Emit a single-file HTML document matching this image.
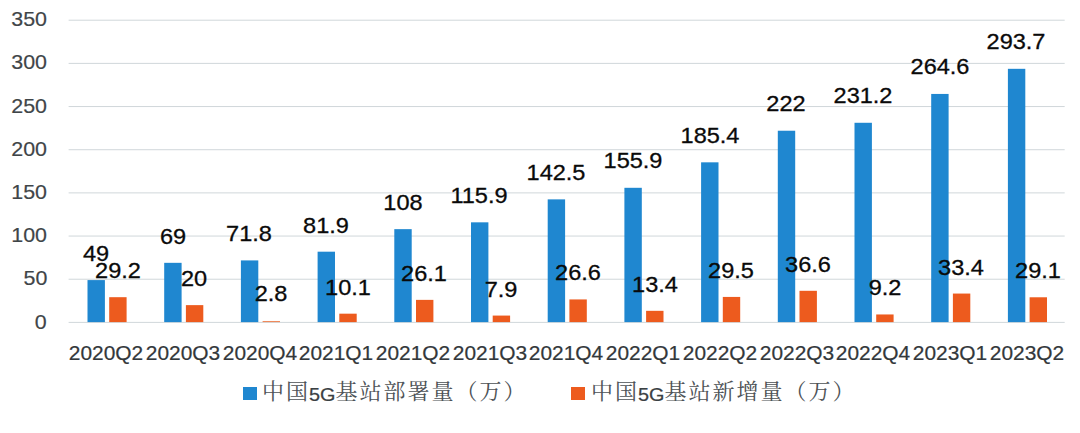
<!DOCTYPE html>
<html lang="zh"><head><meta charset="utf-8"><title>中国5G基站部署量</title><style>
html,body{margin:0;padding:0;background:#fff;}
body{width:1080px;height:433px;overflow:hidden;position:relative;font-family:"Liberation Sans",sans-serif;}
#chart{position:absolute;left:0;top:0;width:1080px;height:433px;background:#fff;overflow:hidden;}
.t{position:absolute;white-space:nowrap;line-height:1;}
.ax{color:#3f4548;-webkit-text-stroke:0.2px #3f4548;font-size:21.0px;transform-origin:100% 50%;transform:scaleX(1.02);text-align:right;}
.xl{color:#33383b;-webkit-text-stroke:0.2px #33383b;font-size:20.0px;transform:translateX(-50%) scaleX(1.045);}
.dl{color:#0a0a0a;-webkit-text-stroke:0.3px #0a0a0a;font-size:22.1px;transform:translateX(-50%) scaleX(1.065);}
.lg{position:absolute;}
.lg svg{position:absolute;left:0;top:0;overflow:visible;}
.lg .k{position:absolute;width:13.5px;height:13.3px;}
.lg .tx{position:absolute;white-space:nowrap;color:#4d5256;font-family:"Liberation Serif","Noto Serif CJK SC",serif;font-size:22px;line-height:1;letter-spacing:2px;}
.lg .en{position:absolute;white-space:nowrap;color:#3a4043;font-size:18.3px;line-height:1;transform-origin:0 50%;transform:scaleX(1.085);-webkit-text-stroke:0.22px #3a4043;}
</style></head><body><div id="chart">
<svg width="1080" height="433" viewBox="0 0 1080 433" style="position:absolute;left:0;top:0"><line x1="68.6" x2="1064.7" y1="322.4" y2="322.4" stroke="#d0d7da" stroke-width="1.0"/><line x1="68.6" x2="1064.7" y1="279.23" y2="279.23" stroke="#d0d7da" stroke-width="1.0"/><line x1="68.6" x2="1064.7" y1="236.06" y2="236.06" stroke="#d0d7da" stroke-width="1.0"/><line x1="68.6" x2="1064.7" y1="192.89" y2="192.89" stroke="#d0d7da" stroke-width="1.0"/><line x1="68.6" x2="1064.7" y1="149.72" y2="149.72" stroke="#d0d7da" stroke-width="1.0"/><line x1="68.6" x2="1064.7" y1="106.55" y2="106.55" stroke="#d0d7da" stroke-width="1.0"/><line x1="68.6" x2="1064.7" y1="63.38" y2="63.38" stroke="#d0d7da" stroke-width="1.0"/><line x1="68.6" x2="1064.7" y1="20.21" y2="20.21" stroke="#d0d7da" stroke-width="1.0"/><rect x="87.5" y="280.09" width="17.4" height="42.01" fill="#1f87d0"/><rect x="109.2" y="297.19" width="17.4" height="24.91" fill="#ed5b1e"/><rect x="164.2" y="262.83" width="17.4" height="59.27" fill="#1f87d0"/><rect x="185.9" y="305.13" width="17.4" height="16.97" fill="#ed5b1e"/><rect x="240.9" y="260.41" width="17.4" height="61.69" fill="#1f87d0"/><rect x="262.6" y="320.98" width="17.4" height="1.12" fill="#ef8a5c"/><rect x="317.6" y="251.69" width="17.4" height="70.41" fill="#1f87d0"/><rect x="339.3" y="313.68" width="17.4" height="8.42" fill="#ed5b1e"/><rect x="394.3" y="229.15" width="17.4" height="92.95" fill="#1f87d0"/><rect x="416" y="299.87" width="17.4" height="22.23" fill="#ed5b1e"/><rect x="471" y="222.33" width="17.4" height="99.77" fill="#1f87d0"/><rect x="492.7" y="315.58" width="17.4" height="6.52" fill="#ed5b1e"/><rect x="547.7" y="199.37" width="17.4" height="122.73" fill="#1f87d0"/><rect x="569.4" y="299.43" width="17.4" height="22.67" fill="#ed5b1e"/><rect x="624.4" y="187.8" width="17.4" height="134.3" fill="#1f87d0"/><rect x="646.1" y="310.83" width="17.4" height="11.27" fill="#ed5b1e"/><rect x="701.1" y="162.33" width="17.4" height="159.77" fill="#1f87d0"/><rect x="722.8" y="296.93" width="17.4" height="25.17" fill="#ed5b1e"/><rect x="777.8" y="130.73" width="17.4" height="191.37" fill="#1f87d0"/><rect x="799.5" y="290.8" width="17.4" height="31.3" fill="#ed5b1e"/><rect x="854.5" y="122.78" width="17.4" height="199.32" fill="#1f87d0"/><rect x="876.2" y="314.46" width="17.4" height="7.64" fill="#ed5b1e"/><rect x="931.2" y="93.94" width="17.4" height="228.16" fill="#1f87d0"/><rect x="952.9" y="293.56" width="17.4" height="28.54" fill="#ed5b1e"/><rect x="1007.9" y="68.82" width="17.4" height="253.28" fill="#1f87d0"/><rect x="1029.6" y="297.28" width="17.4" height="24.82" fill="#ed5b1e"/></svg>
<div class="t ax" style="right:1033.1px;top:310.5px">0</div>
<div class="t ax" style="right:1033.1px;top:267.33px">50</div>
<div class="t ax" style="right:1033.1px;top:224.16px">100</div>
<div class="t ax" style="right:1033.1px;top:180.99px">150</div>
<div class="t ax" style="right:1033.1px;top:137.82px">200</div>
<div class="t ax" style="right:1033.1px;top:94.65px">250</div>
<div class="t ax" style="right:1033.1px;top:51.48px">300</div>
<div class="t ax" style="right:1033.1px;top:8.31px">350</div>
<div class="t xl" style="left:106.25px;top:342.9px">2020Q2</div>
<div class="t xl" style="left:182.95px;top:342.9px">2020Q3</div>
<div class="t xl" style="left:259.65px;top:342.9px">2020Q4</div>
<div class="t xl" style="left:336.35px;top:342.9px">2021Q1</div>
<div class="t xl" style="left:413.05px;top:342.9px">2021Q2</div>
<div class="t xl" style="left:489.75px;top:342.9px">2021Q3</div>
<div class="t xl" style="left:566.45px;top:342.9px">2021Q4</div>
<div class="t xl" style="left:643.15px;top:342.9px">2022Q1</div>
<div class="t xl" style="left:719.85px;top:342.9px">2022Q2</div>
<div class="t xl" style="left:796.55px;top:342.9px">2022Q3</div>
<div class="t xl" style="left:873.25px;top:342.9px">2022Q4</div>
<div class="t xl" style="left:949.95px;top:342.9px">2023Q1</div>
<div class="t xl" style="left:1026.65px;top:342.9px">2023Q2</div>
<div class="t dl" style="left:95.9px;top:243.03px">49</div>
<div class="t dl" style="left:172.6px;top:225.71px">69</div>
<div class="t dl" style="left:249.3px;top:223.29px">71.8</div>
<div class="t dl" style="left:326px;top:214.54px">81.9</div>
<div class="t dl" style="left:402.7px;top:191.95px">108</div>
<div class="t dl" style="left:479.4px;top:185.11px">115.9</div>
<div class="t dl" style="left:556.1px;top:162.08px">142.5</div>
<div class="t dl" style="left:632.8px;top:150.47px">155.9</div>
<div class="t dl" style="left:709.5px;top:124.93px">185.4</div>
<div class="t dl" style="left:786.2px;top:93.25px">222</div>
<div class="t dl" style="left:862.9px;top:85.28px">231.2</div>
<div class="t dl" style="left:939.6px;top:56.36px">264.6</div>
<div class="t dl" style="left:1016.3px;top:31.17px">293.7</div>
<div class="t dl" style="left:117.6px;top:260.17px">29.2</div>
<div class="t dl" style="left:194.3px;top:268.13px">20</div>
<div class="t dl" style="left:271px;top:283.03px">2.8</div>
<div class="t dl" style="left:347.7px;top:276.71px">10.1</div>
<div class="t dl" style="left:424.4px;top:262.85px">26.1</div>
<div class="t dl" style="left:501.1px;top:278.61px">7.9</div>
<div class="t dl" style="left:577.8px;top:262.42px">26.6</div>
<div class="t dl" style="left:654.5px;top:273.85px">13.4</div>
<div class="t dl" style="left:731.2px;top:259.91px">29.5</div>
<div class="t dl" style="left:807.9px;top:253.76px">36.6</div>
<div class="t dl" style="left:884.6px;top:277.48px">9.2</div>
<div class="t dl" style="left:961.3px;top:256.53px">33.4</div>
<div class="t dl" style="left:1038px;top:260.26px">29.1</div>
<div class="lg" style="left:0;top:0"><div class="k" style="left:243.3px;top:386.5px;background:#1f87d0"></div><span class="tx" style="left:262px;top:381px">中国</span><span class="en" style="left:308.5px;top:385.7px">5G</span><span class="tx" style="left:335.5px;top:381px">基站部署量（万）</span></div>
<div class="lg" style="left:0;top:0"><div class="k" style="left:571.3px;top:386.5px;background:#ed5b1e"></div><span class="tx" style="left:591px;top:381px">中国</span><span class="en" style="left:637.5px;top:385.7px">5G</span><span class="tx" style="left:664.5px;top:381px">基站新增量（万）</span></div>
</div></body></html>
